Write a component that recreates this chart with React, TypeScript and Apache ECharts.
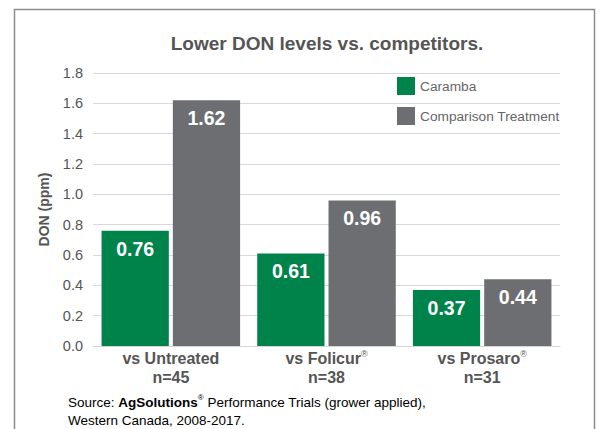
import React, { useEffect, useRef } from "react";
import * as echarts from "echarts";

const categories = ["vs Untreated", "vs Folicur", "vs Prosaro"];
const categorySup = ["", "®", "®"];
const trialCounts = ["n=45", "n=38", "n=31"];
const caramba = [0.76, 0.61, 0.37];
const comparison = [1.62, 0.96, 0.44];
const seriesNames = ["Caramba", "Comparison Treatment"];

const FONT = "Liberation Sans";
const GREEN = "#00834a";
const GRAY = "#6d6e71";

export default function App() {
  const ref = useRef<HTMLDivElement>(null);
  useEffect(() => {
    if (!ref.current) return;
    const chart = echarts.init(ref.current, null, { renderer: "svg" });
    const labelStyle = {
      show: true,
      position: "insideTop",
      distance: 8,
      color: "#ffffff",
      fontFamily: FONT,
      fontWeight: "bold",
      fontSize: 19.5,
      formatter: (p: any) => p.value.toFixed(2),
    };
    chart.setOption({
      animation: false,
      textStyle: { fontFamily: FONT },
      title: {
        text: "Lower DON levels vs. competitors.",
        left: 322,
        textAlign: "center",
        top: 29,
        textStyle: { fontFamily: FONT, fontSize: 19, fontWeight: "bold", color: "#555555" },
      },
      legend: {
        orient: "vertical",
        left: 397,
        top: 77,
        padding: 0,
        itemWidth: 18,
        itemHeight: 18,
        itemGap: 12,
        icon: "rect",
        textStyle: { fontFamily: FONT, fontSize: 13.7, color: "#666666", padding: [0, 0, 0, 0] },
        data: seriesNames,
      },
      grid: { left: 93, right: 42, top: 73, bottom: 83 },
      xAxis: {
        type: "category",
        data: categories,
        axisLine: { show: true, lineStyle: { color: "#d6d6d6", width: 1 } },
        axisTick: { show: false },
        axisLabel: {
          margin: 3,
          interval: 0,
          formatter: (v: string, i: number) =>
            `{b|${v}}` + (categorySup[i] ? `{sup|${categorySup[i]}}` : "") + `\n{b|${trialCounts[i]}}`,
          rich: {
            b: { fontFamily: FONT, fontSize: 16, fontWeight: "bold", color: "#555555", lineHeight: 19 },
            sup: { fontFamily: FONT, fontSize: 9, color: "#555555", verticalAlign: "top", lineHeight: 19, padding: [0, 0, 7, 0] },
          },
        },
      },
      yAxis: {
        type: "value",
        min: 0,
        max: 1.8,
        interval: 0.2,
        name: "DON (ppm)",
        nameLocation: "middle",
        nameGap: 42,
        nameRotate: 90,
        nameTextStyle: { fontFamily: FONT, fontSize: 14, fontWeight: "bold", color: "#555555" },
        axisLine: { show: false },
        axisTick: { show: false },
        splitLine: { lineStyle: { color: "#d9d9d9", width: 1 } },
        axisLabel: {
          margin: 10,
          fontFamily: FONT,
          fontSize: 14.5,
          color: "#555555",
          formatter: (v: number) => v.toFixed(1),
        },
      },
      series: [
        {
          name: seriesNames[0],
          type: "bar",
          data: caramba,
          itemStyle: { color: GREEN },
          barCategoryGap: "11%",
          barGap: "6%",
          label: labelStyle,
        },
        {
          name: seriesNames[1],
          type: "bar",
          data: comparison,
          itemStyle: { color: GRAY },
          barCategoryGap: "11%",
          barGap: "6%",
          label: labelStyle,
        },
      ],
      graphic: [
        {
          type: "rect",
          shape: { x: 14.5, y: 9.5, width: 580, height: 440 },
          style: { fill: "none", stroke: "#8c8c8c", lineWidth: 1.5 },
          silent: true,
        },
        {
          type: "text",
          left: 68,
          top: 393,
          style: {
            text:
              "{n|Source: }{bb|AgSolutions}{sup|®}{n| Performance Trials (grower applied),}\n{n|Western Canada, 2008-2017.}",
            rich: {
              n: { fontFamily: FONT, fontSize: 13.5, color: "#666666", lineHeight: 18 },
              bb: { fontFamily: FONT, fontSize: 13.5, fontWeight: "bold", color: "#555555", lineHeight: 18 },
              sup: { fontFamily: FONT, fontSize: 8, color: "#666666", verticalAlign: "top", lineHeight: 18, padding: [0, 0, 7, 0] },
            },
          },
        },
      ],
    });
    return () => chart.dispose();
  }, []);
  return (
    <div
      ref={ref}
      style={{ position: "fixed", left: 0, top: 0, width: 602, height: 429, background: "#ffffff" }}
    />
  );
}
